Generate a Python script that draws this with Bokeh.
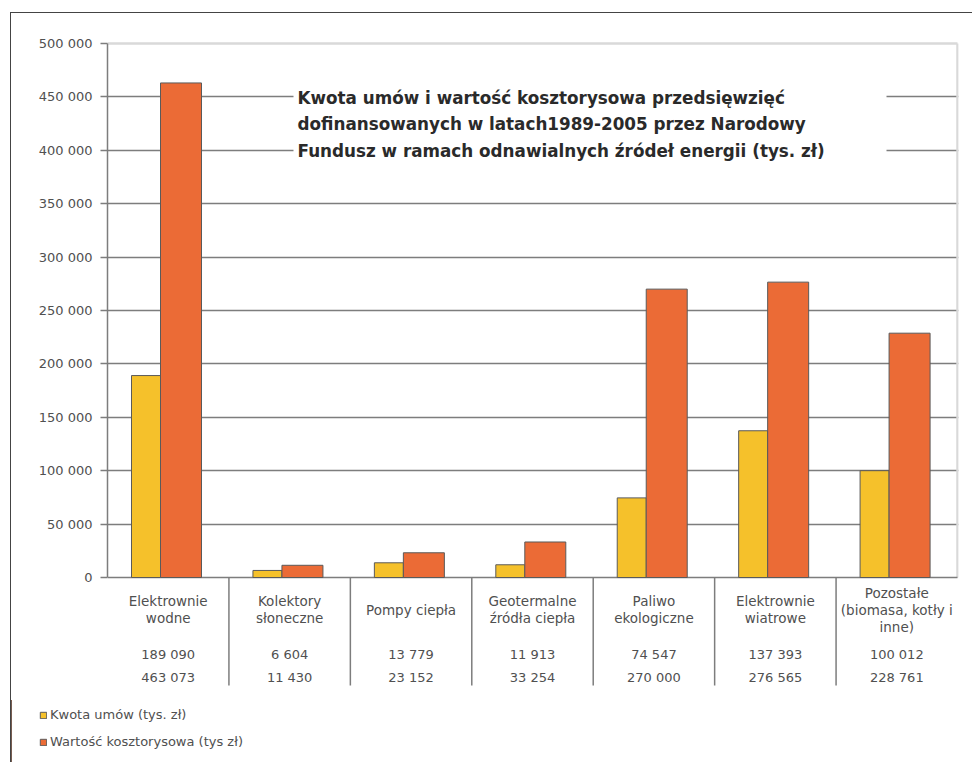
from bokeh.plotting import figure
from bokeh.layouts import column
from bokeh.models import (Range1d, FixedTicker, ColumnDataSource, Label,
                          BoxAnnotation, Legend, LegendItem)
from bokeh.core.properties import value
from bokeh.embed import file_html
from bokeh.resources import INLINE

# ---------------- data ----------------
categories = ["Elektrownie\nwodne", "Kolektory\nsłoneczne", "Pompy ciepła",
              "Geotermalne\nźródła ciepła", "Paliwo\nekologiczne",
              "Elektrownie\nwiatrowe", "Pozostałe\n(biomasa, kotły i\ninne)"]
kwota = [189090, 6604, 13779, 11913, 74547, 137393, 100012]
wartosc = [463073, 11430, 23152, 33254, 270000, 276565, 228761]
series_names = ["Kwota umów (tys. zł)", "Wartość kosztorysowa (tys zł)"]
y_ticks = [0, 50000, 100000, 150000, 200000, 250000, 300000, 350000, 400000, 450000, 500000]
y_tick_labels = ["0", "50 000", "100 000", "150 000", "200 000", "250 000",
                 "300 000", "350 000", "400 000", "450 000", "500 000"]
title_lines = ["Kwota umów i wartość kosztorysowa przedsięwzięć",
               "dofinansowanych w latach1989-2005 przez Narodowy",
               "Fundusz w ramach odnawialnych źródeł energii (tys. zł)"]

# ---------------- layout (reference-page pixels) ----------------
W, H = 972, 762
OX, OY = 11, 13            # content origin on the page (margin + border)
AXL, AXR, AXT, AXB = 107, 957, 43, 577   # value area of the chart
FRAME_R, FRAME_T, FRAME_B = 958, 41, 700
n = len(categories)
YMAX = y_ticks[-1]
px_per_x = (AXR - AXL) / n
val_per_px = YMAX / (AXB - AXT)


def dx(px):
    return (px - AXL) / px_per_x


def dy(py):
    return (AXB - py) * val_per_px


YELLOW = "#F5C12B"
ORANGE = "#EB6B36"
GRID = "#7d7d7d"
LIGHT = "#d9d9d9"
TXT = "#505050"

cw = W - OX
p = figure(width=cw, height=FRAME_B - OY,
           x_range=Range1d(0, dx(FRAME_R)), y_range=Range1d(dy(FRAME_B), dy(FRAME_T)),
           output_backend="svg", toolbar_location=None, x_axis_location=None,
           min_border_left=AXL - OX, min_border_right=W - FRAME_R,
           min_border_top=FRAME_T - OY, min_border_bottom=0)
p.background_fill_color = "white"
p.border_fill_color = "white"
p.outline_line_color = None
if "frame_align" in p.properties():
    p.frame_align = False

# only horizontal grid lines inside the value area
for g in p.grid:
    if g.dimension == 0:
        g.visible = False
    else:
        g.ticker = FixedTicker(ticks=y_ticks[1:-1])
        g.grid_line_color = GRID
        g.grid_line_width = 1.5

# plot-area border (top, right), base line and category separators
seps = list(range(1, n))
p.segment(x0=[0], y0=[YMAX], x1=[n], y1=[YMAX], line_color=LIGHT, line_width=2.5)
p.segment(x0=[n], y0=[0], x1=[n], y1=[YMAX], line_color=LIGHT, line_width=2.5)
p.segment(x0=[0], y0=[0], x1=[n], y1=[0], line_color=GRID, line_width=1.5)
p.segment(x0=seps, y0=[0] * len(seps), x1=seps, y1=[dy(685)] * len(seps),
          line_color=GRID, line_width=1.5)

# bars
centers = [i + 0.5 for i in range(n)]
src = ColumnDataSource(dict(
    xk=[c - 22.2 / px_per_x for c in centers],
    xw=[c + 12.8 / px_per_x for c in centers],
    kwota=kwota, wartosc=wartosc))
bar_k = dict(fill_color=YELLOW, line_color="#5a5a5a", line_width=1)
bar_w = dict(fill_color=ORANGE, line_color="#5a5a5a", line_width=1)
p.vbar(x="xk", top="kwota", width=29 / px_per_x, bottom=0, source=src, **bar_k)
p.vbar(x="xw", top="wartosc", width=41 / px_per_x, bottom=0, source=src, **bar_w)

# y axis
ya = p.yaxis[0]
ya.bounds = (0, YMAX)
ya.ticker = FixedTicker(ticks=y_ticks)
ya.major_label_overrides = {t: l for t, l in zip(y_ticks, y_tick_labels)}
ya.major_tick_out = 7
ya.major_tick_in = 0
ya.minor_tick_line_color = None
ya.major_label_standoff = 8
ya.major_label_text_font = "DejaVu Sans"
ya.major_label_text_font_size = "13px"
ya.major_label_text_color = TXT
ya.axis_line_color = GRID
ya.axis_line_width = 1.5
ya.major_tick_line_color = GRID
ya.major_tick_line_width = 1.5

# title box and text
p.add_layout(BoxAnnotation(left=dx(293), right=dx(886), bottom=dy(165), top=dy(82),
                           fill_color="white", fill_alpha=1, line_color=None))
for line, yc in zip(title_lines, [97, 123.5, 150]):
    p.add_layout(Label(x=dx(297), y=dy(yc), text=line, text_baseline="middle",
                       text_align="left", text_font="DejaVu Sans", text_font_style="bold",
                       text_font_size="16.8px", text_color="#2a2a2a"))

# table below the axis: category names, then the two value rows
lx, ly, lt = [], [], []
for i, cat in enumerate(categories):
    lines = cat.split("\n")
    k = len(lines)
    for j, ln in enumerate(lines):
        lx.append(centers[i])
        ly.append(dy(609 + (j - (k - 1) / 2) * 17))
        lt.append(ln)
p.text(x="x", y="y", text="t", source=ColumnDataSource(dict(x=lx, y=ly, t=lt)),
       text_align="center", text_baseline="middle", text_font=value("DejaVu Sans"),
       text_font_size="13.5px", text_color=TXT)

vx = centers + centers
vy = [dy(654)] * n + [dy(677)] * n
vt = [f"{v:,}".replace(",", " ") for v in kwota + wartosc]
p.text(x="x", y="y", text="t", source=ColumnDataSource(dict(x=vx, y=vy, t=vt)),
       text_align="center", text_baseline="middle", text_font=value("DejaVu Sans"),
       text_font_size="13px", text_color=TXT)

# legend strip (its own small figure, page-pixel coordinates)
pl = figure(width=cw, height=H - FRAME_B, x_range=Range1d(OX, W), y_range=Range1d(H, FRAME_B),
            output_backend="svg", toolbar_location=None, x_axis_location=None,
            y_axis_location=None, min_border=0)
pl.outline_line_color = None
pl.grid.visible = False
pl.background_fill_color = "white"
pl.border_fill_color = "white"
if "frame_align" in pl.properties():
    pl.frame_align = False
# same series drawn here only to feed the legend (they fall outside this strip's range)
lk = pl.vbar(x="xk", top="kwota", width=29 / px_per_x, bottom=0, source=src, **bar_k)
lw = pl.vbar(x="xw", top="wartosc", width=41 / px_per_x, bottom=0, source=src, **bar_w)
legend = Legend(items=[LegendItem(label=series_names[0], renderers=[lk]),
                       LegendItem(label=series_names[1], renderers=[lw])],
                location=(39 - OX, 13), orientation="vertical",
                glyph_width=8, glyph_height=8, label_height=9, spacing=12,
                padding=0, margin=0, border_line_color=None, background_fill_alpha=0,
                label_text_font="DejaVu Sans", label_text_font_size="13px",
                label_standoff=3, label_text_color=TXT)
pl.add_layout(legend)

layout = column(p, pl, spacing=0)
layout.margin = (OY - 1, 0, 0, OX - 1)
layout.styles = {"border-left": "1px solid #444", "border-top": "1px solid #444"}

open("out.html", "w").write(file_html(layout, INLINE))
